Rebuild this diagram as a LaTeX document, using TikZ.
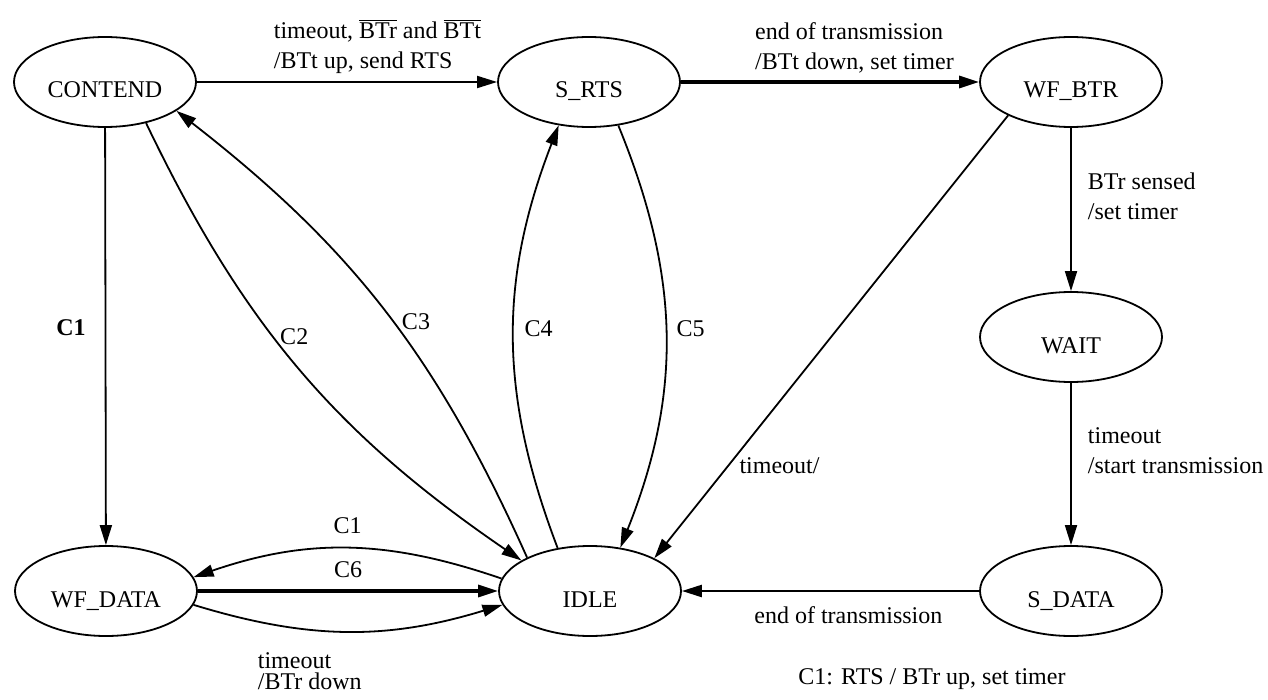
\documentclass[tikz,border=0pt]{standalone}
\usepackage{fontspec}
\setmainfont{Liberation Serif}
\usetikzlibrary{arrows.meta,shapes.geometric}
\tikzset{>={Triangle[length=10pt,width=6pt]}}
\tikzset{state/.style={draw, ellipse, line width=0.9pt, minimum width=91pt, minimum height=45pt, inner sep=1pt, text height=16pt, text depth=0pt},
  lbl/.style={align=left, inner sep=2pt}}

\begin{document}
\begin{tikzpicture}[x=0.5pt, y=-0.5pt, font=\fontsize{12}{15}\selectfont, line width=0.9pt]
    \useasboundingbox (0,0) rectangle (1268,700);
    \node[state] (contend) at (105,82) {CONTEND};
    \node[state] (srts) at (589,82) {S\_RTS};
    \node[state] (wfbtr) at (1071,82) {WF\_BTR};
    \node[state] (wait) at (1071,337) {WAIT};
    \node[state] (wfdata) at (106,591) {WF\_DATA};
    \node[state] (idle) at (590,591) {IDLE};
    \node[state] (sdata) at (1071,591) {S\_DATA};
    % top row
    \draw[->] (contend) -- node[lbl, pos=.24, anchor=south west, yshift=1.5pt] {timeout, $\overline{\mbox{BTr}}$ and $\overline{\mbox{BTt}}$\\/BTt up, send RTS} (srts);
    \draw[->, line width=1.6pt] (srts) -- node[lbl, pos=.23, anchor=south west, yshift=1.5pt] {end of transmission\\/BTt down, set timer} (wfbtr);
    % right column
    \draw[->] (wfbtr) -- node[lbl, pos=.42, right=6pt] {BTr sensed\\/set timer} (wait);
    \draw[->] (wait) -- node[lbl, pos=.42, right=6pt] {timeout\\/start transmission} (sdata);
    \draw[->, line width=1.2pt] (sdata) -- node[lbl, pos=.44, below=5pt] {end of transmission} (idle);
    \draw[->] (wfbtr.-152) -- node[lbl, pos=.79, right=3pt] {timeout/} (idle.27);
    % left part
    \draw[->] (contend) -- node[lbl, pos=.48, left=7.5pt] {\textbf{C1}} (wfdata);
    \draw[->] (contend.-45) to[bend right=15] node[lbl, pos=.42, right=1pt] {C2} (idle.156);
    \draw[->] (idle.152) to[bend right=14] node[lbl, pos=.47, right=2pt] {C3} (contend.-22);
    \draw[->] (idle.127) to[bend left=21] node[lbl, pos=.52, right=3pt] {C4} (srts.-125);
    \draw[->] (srts.-56) to[bend left=22] node[lbl, pos=.48, right=3pt] {C5} (idle.55);
    % bottom row
    \draw[->] (idle.172) to[out=161, in=19] node[lbl, pos=.5, above=5pt] {C1} (wfdata.9);
    \draw[->, line width=1.6pt] (wfdata) -- node[lbl, above=4pt] {C6} (idle);
    \draw[->] (wfdata.-9) to[out=-17, in=197] node[lbl, pos=.5, anchor=north west, xshift=-47.5pt, yshift=-8pt, font=\fontsize{12}{10.5}\selectfont] {timeout\\/BTr down} (idle.189);
    \node (legend) at (932,679) {C1: RTS / BTr up, set timer};
\end{tikzpicture}
\end{document}
